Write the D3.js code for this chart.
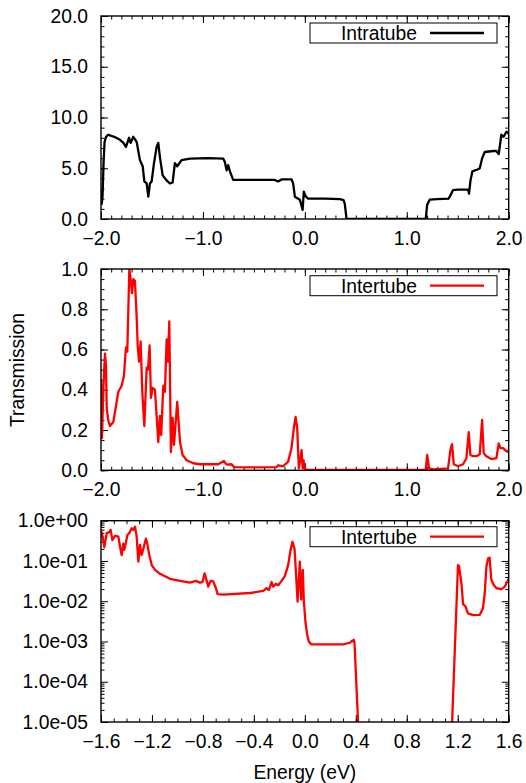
<!DOCTYPE html>
<html>
<head>
<meta charset="utf-8">
<script src="https://cdn.jsdelivr.net/npm/d3@7"></script>
<style>
  body { margin: 0; background: #fff; }
  text { font-family: "Liberation Sans", Arial, sans-serif; fill: #000; }
</style>
</head>
<body>
<div id="chart"></div>
<script>
// ---- data ----

// panel 1: intratube transmission (linear)
const energyIntra = [
  -2.0, -1.993, -1.985, -1.975, -1.965, -1.95, -1.93, -1.87, -1.814, -1.78,
  -1.755, -1.725, -1.709, -1.683, -1.65, -1.618, -1.591, -1.575, -1.552, -1.536,
  -1.52, -1.503, -1.48, -1.454, -1.438, -1.422, -1.395, -1.356, -1.324, -1.297,
  -1.275, -1.252, -1.209, -1.127, -0.95, -0.801, -0.784, -0.768, -0.752, -0.735,
  -0.703, -0.5, -0.294, -0.262, -0.229, -0.13, -0.115, -0.098, -0.049, -0.022,
  -0.01, 0.01, 0.032, 0.2, 0.343, 0.38, 0.392, 0.409, 0.8, 1.186,
  1.2, 1.225, 1.3, 1.41, 1.422, 1.454, 1.5, 1.601, 1.611, 1.625,
  1.644, 1.7, 1.716, 1.74, 1.765, 1.85, 1.879, 1.902, 1.928, 1.95,
  1.977, 2.0
];
const transIntra = [
  2.8, 1.5, 2.2, 5.5, 7.6, 8.1, 8.3, 8.1, 7.8, 7.5,
  7.1, 8.0, 7.5, 8.1, 7.6, 5.8, 5.2, 3.7, 3.5, 2.2,
  3.5, 3.7, 5.5, 7.1, 7.5, 6.1, 4.3, 3.8, 3.5, 3.6,
  5.5, 5.2, 5.8, 5.95, 6.0, 5.95, 5.6, 4.8, 5.3, 4.7,
  3.85, 3.85, 3.85, 3.7, 3.9, 3.9, 3.5, 2.2, 1.9, 0.9,
  2.7, 2.2, 2.0, 2.0, 1.95, 1.85, 1.5, 0.0, 0.0, 0.0,
  1.4, 1.9, 1.95, 2.0, 2.2, 2.85, 2.9, 2.9, 2.5, 3.8,
  4.7, 4.9, 5.0, 6.0, 6.6, 6.7, 6.7, 6.4, 8.3, 8.1,
  8.6, 8.4
];

// panel 2: intertube transmission (linear)
const energyInter = [
  -2.0, -1.99, -1.977, -1.961, -1.951, -1.944, -1.93, -1.912, -1.879, -1.83,
  -1.797, -1.775, -1.755, -1.742, -1.722, -1.709, -1.696, -1.683, -1.667, -1.65,
  -1.64, -1.627, -1.611, -1.595, -1.575, -1.552, -1.539, -1.523, -1.51, -1.493,
  -1.471, -1.454, -1.438, -1.422, -1.409, -1.389, -1.373, -1.356, -1.343, -1.33,
  -1.314, -1.297, -1.284, -1.252, -1.225, -1.199, -1.16, -1.095, -1.03, -0.85,
  -0.794, -0.768, -0.719, -0.696, -0.5, -0.278, -0.262, -0.213, -0.164, -0.131,
  -0.108, -0.091, -0.075, -0.059, -0.042, -0.032, -0.022, -0.013, 0.0, 0.032,
  0.5, 1.186, 1.2, 1.219, 1.258, 1.405, 1.428, 1.444, 1.461, 1.503,
  1.552, 1.585, 1.608, 1.624, 1.65, 1.683, 1.716, 1.739, 1.755, 1.781,
  1.83, 1.879, 1.902, 1.918, 1.944, 1.977, 2.0
];
const transInter = [
  0.45, 0.16, 0.41, 0.58, 0.52, 0.31, 0.25, 0.22, 0.24, 0.39,
  0.42, 0.47, 0.61, 0.59, 1.0, 0.95, 0.88, 0.95, 0.94, 0.76,
  0.62, 0.54, 0.64, 0.39, 0.22, 0.51, 0.50, 0.62, 0.36, 0.41,
  0.40, 0.27, 0.14, 0.27, 0.175, 0.42, 0.39, 0.65, 0.54, 0.74,
  0.09, 0.26, 0.126, 0.34, 0.14, 0.076, 0.05, 0.035, 0.03, 0.03,
  0.046, 0.028, 0.03, 0.016, 0.015, 0.016, 0.025, 0.02, 0.043, 0.11,
  0.21, 0.265, 0.21, 0.01, 0.06, 0.1, 0.01, 0.05, 0.004, 0.002,
  0.002, 0.002, 0.076, 0.01, 0.005, 0.01, 0.1, 0.13, 0.03, 0.02,
  0.03, 0.06, 0.19, 0.076, 0.07, 0.07, 0.08, 0.25, 0.085, 0.07,
  0.056, 0.06, 0.134, 0.11, 0.11, 0.095, 0.09
];

// panel 3: intertube transmission (log scale, narrower window)
const energyInterLog = [
  -1.6, -1.587, -1.574, -1.555, -1.535, -1.524, -1.511, -1.49, -1.464, -1.446,
  -1.438, -1.425, -1.417, -1.406, -1.393, -1.378, -1.359, -1.347, -1.333, -1.32,
  -1.307, -1.294, -1.281, -1.268, -1.247, -1.237, -1.221, -1.202, -1.176, -1.137,
  -1.059, -0.98, -0.902, -0.855, -0.824, -0.803, -0.787, -0.771, -0.758, -0.74,
  -0.719, -0.698, -0.685, -0.641, -0.431, -0.327, -0.30, -0.282, -0.261, -0.249,
  -0.227, -0.209, -0.183, -0.157, -0.131, -0.112, -0.097, -0.081, -0.071, -0.057,
  -0.039, -0.029, -0.016, -0.008, 0.005, 0.018, 0.031, 0.05, 0.3, 0.353,
  0.372, 0.378, 0.384, 0.39, 0.432, 0.8, 1.144, 1.202, 1.21, 1.229,
  1.242, 1.26, 1.28, 1.32, 1.373, 1.398, 1.412, 1.425, 1.438, 1.45,
  1.464, 1.48, 1.504, 1.543, 1.569, 1.6
];
const transInterLog = [
  0.59, 0.40, 0.22, 0.49, 0.52, 0.59, 0.33, 0.42, 0.40, 0.19,
  0.14, 0.27, 0.19, 0.27, 0.44, 0.49, 0.65, 0.59, 0.71, 0.40,
  0.096, 0.25, 0.14, 0.2, 0.36, 0.27, 0.14, 0.079, 0.06, 0.048,
  0.036, 0.032, 0.029, 0.032, 0.029, 0.03, 0.049, 0.033, 0.023, 0.032,
  0.031, 0.021, 0.015, 0.0145, 0.016, 0.018, 0.021, 0.019, 0.03, 0.023,
  0.027, 0.025, 0.032, 0.042, 0.079, 0.19, 0.30, 0.2, 0.06, 0.0098,
  0.096, 0.011, 0.06, 0.01, 0.003, 0.0015, 0.001, 0.00085, 0.00085, 0.00093,
  0.00105, 0.001, 0.0011, 0.0009, 1e-6, 1e-7, 1e-6, 0.079, 0.075, 0.028,
  0.0085, 0.0075, 0.005, 0.0045, 0.0046, 0.0066, 0.0158, 0.072, 0.116, 0.12,
  0.034, 0.026, 0.021, 0.02, 0.023, 0.036
];

// tick values
const xTicksWide = [-2.0, -1.0, 0.0, 1.0, 2.0];
const xTicksNarrow = [-1.6, -1.2, -0.8, -0.4, 0.0, 0.4, 0.8, 1.2, 1.6];
const yTicksIntra = [0, 5, 10, 15, 20];
const yTicksInter = [0, 0.2, 0.4, 0.6, 0.8, 1.0];
const yTicksLog = [1e-5, 1e-4, 1e-3, 1e-2, 1e-1, 1e0];

const W = 526, H = 783;
const left = 101, right = 508.7;
const fontSize = 19.3;

const svg = d3.select("#chart").append("svg")
  .attr("width", W).attr("height", H);

// format 1e-5 -> "1.0e-05"
function fmtExp(v) {
  const s = d3.format(".1e")(v);
  const m = s.match(/^(.*)e([+-−])(\d+)$/);
  let sign = m[2] === "+" ? "+" : "-";
  return m[1] + "e" + sign + m[3].padStart(2, "0");
}

function drawPanel(cfg, idx) {
  const x = d3.scaleLinear().domain(cfg.xDomain).range([left, right]);
  const y = (cfg.log ? d3.scaleLog() : d3.scaleLinear())
    .domain(cfg.yDomain).range([cfg.bottom, cfg.top]);

  const g = svg.append("g");

  // clip
  const clipId = "clip" + idx;
  g.append("clipPath").attr("id", clipId)
    .append("rect")
    .attr("x", left).attr("y", cfg.top)
    .attr("width", right - left).attr("height", cfg.bottom - cfg.top);

  // minor ticks x
  const xMinor = d3.range(Math.round(cfg.xDomain[0] * 10), Math.round(cfg.xDomain[1] * 10) + 1).map(d => d / 10);
  g.append("g").attr("transform", `translate(0,${cfg.bottom})`)
    .call(d3.axisBottom(x).tickValues(xMinor).tickSize(-3.5).tickFormat(""))
    .call(a => a.select(".domain").remove());
  g.append("g").attr("transform", `translate(0,${cfg.top})`)
    .call(d3.axisTop(x).tickValues(xMinor).tickSize(-3.5).tickFormat(""))
    .call(a => a.select(".domain").remove());

  // minor ticks y
  let yMinor;
  if (cfg.log) {
    yMinor = [];
    for (let e = -5; e < 0; e++) for (let k = 2; k <= 9; k++) yMinor.push(k * Math.pow(10, e));
  } else {
    yMinor = d3.range(0, Math.round(cfg.yDomain[1] / cfg.yMinorStep) + 1).map(i => i * cfg.yMinorStep);
  }
  g.append("g").attr("transform", `translate(${left},0)`)
    .call(d3.axisLeft(y).tickValues(yMinor).tickSize(-3.5).tickFormat(""))
    .call(a => a.select(".domain").remove());
  g.append("g").attr("transform", `translate(${right},0)`)
    .call(d3.axisRight(y).tickValues(yMinor).tickSize(-3.5).tickFormat(""))
    .call(a => a.select(".domain").remove());

  // major ticks + labels
  const xAx = g.append("g").attr("transform", `translate(0,${cfg.bottom})`)
    .call(d3.axisBottom(x).tickValues(cfg.xTicks).tickSize(-7).tickPadding(12)
      .tickFormat(d3.format(".1f")));
  xAx.select(".domain").remove();
  g.append("g").attr("transform", `translate(0,${cfg.top})`)
    .call(d3.axisTop(x).tickValues(cfg.xTicks).tickSize(-7).tickFormat(""))
    .call(a => a.select(".domain").remove());

  const yAx = g.append("g").attr("transform", `translate(${left},0)`)
    .call(d3.axisLeft(y).tickValues(cfg.yTicks).tickSize(-7).tickPadding(13)
      .tickFormat(cfg.log ? fmtExp : d3.format(".1f")));
  yAx.select(".domain").remove();
  g.append("g").attr("transform", `translate(${right},0)`)
    .call(d3.axisRight(y).tickValues(cfg.yTicks).tickSize(-7).tickFormat(""))
    .call(a => a.select(".domain").remove());

  g.selectAll(".tick line").attr("stroke", "#000").attr("stroke-width", 1);
  g.selectAll(".tick text").style("font-size", fontSize + "px")
    .style("font-family", '"Liberation Sans", Arial, sans-serif');

  // curve
  const pts = cfg.energy.map((e, i) => [e, cfg.trans[i]]);
  g.append("path")
    .datum(pts)
    .attr("clip-path", `url(#${clipId})`)
    .attr("fill", "none")
    .attr("stroke", cfg.color)
    .attr("stroke-width", 2.3)
    .attr("stroke-linejoin", "round")
    .attr("d", d3.line().x(d => x(d[0])).y(d => y(d[1])));

  // frame
  g.append("rect")
    .attr("x", left).attr("y", cfg.top)
    .attr("width", right - left).attr("height", cfg.bottom - cfg.top)
    .attr("fill", "none").attr("stroke", "#000").attr("stroke-width", 1.4);

  // legend
  const ly = cfg.top + cfg.legendInset;
  const lg = g.append("g");
  lg.append("rect")
    .attr("x", 310).attr("y", ly)
    .attr("width", 187).attr("height", 20)
    .attr("fill", "#fff").attr("stroke", "#000").attr("stroke-width", 1);
  lg.append("text")
    .attr("x", 417).attr("y", ly + 16.8)
    .attr("text-anchor", "end")
    .style("font-size", fontSize + "px")
    .text(cfg.label);
  lg.append("line")
    .attr("x1", 430).attr("x2", 484)
    .attr("y1", ly + 10).attr("y2", ly + 10)
    .attr("stroke", cfg.color).attr("stroke-width", 2.3);
}

const panels = [
  { top: 16, bottom: 219, xDomain: [-2, 2], xTicks: xTicksWide, yDomain: [0, 20],
    yTicks: yTicksIntra, yMinorStep: 1, log: false, energy: energyIntra, trans: transIntra,
    color: "#000", label: "Intratube", legendInset: 7 },
  { top: 269, bottom: 470.3, xDomain: [-2, 2], xTicks: xTicksWide, yDomain: [0, 1],
    yTicks: yTicksInter, yMinorStep: 0.05, log: false, energy: energyInter, trans: transInter,
    color: "#ff0000", label: "Intertube", legendInset: 6.7 },
  { top: 520.7, bottom: 722, xDomain: [-1.6, 1.6], xTicks: xTicksNarrow, yDomain: [1e-5, 1],
    yTicks: yTicksLog, log: true, energy: energyInterLog, trans: transInterLog,
    color: "#ff0000", label: "Intertube", legendInset: 6 }
];

panels.forEach((p, i) => drawPanel(p, i));

// axis titles
svg.append("text")
  .attr("transform", "translate(24,370) rotate(-90)")
  .attr("text-anchor", "middle")
  .style("font-size", fontSize + "px")
  .text("Transmission");

svg.append("text")
  .attr("x", (left + right) / 2).attr("y", 779)
  .attr("text-anchor", "middle")
  .style("font-size", fontSize + "px")
  .text("Energy (eV)");
</script>
</body>
</html>
